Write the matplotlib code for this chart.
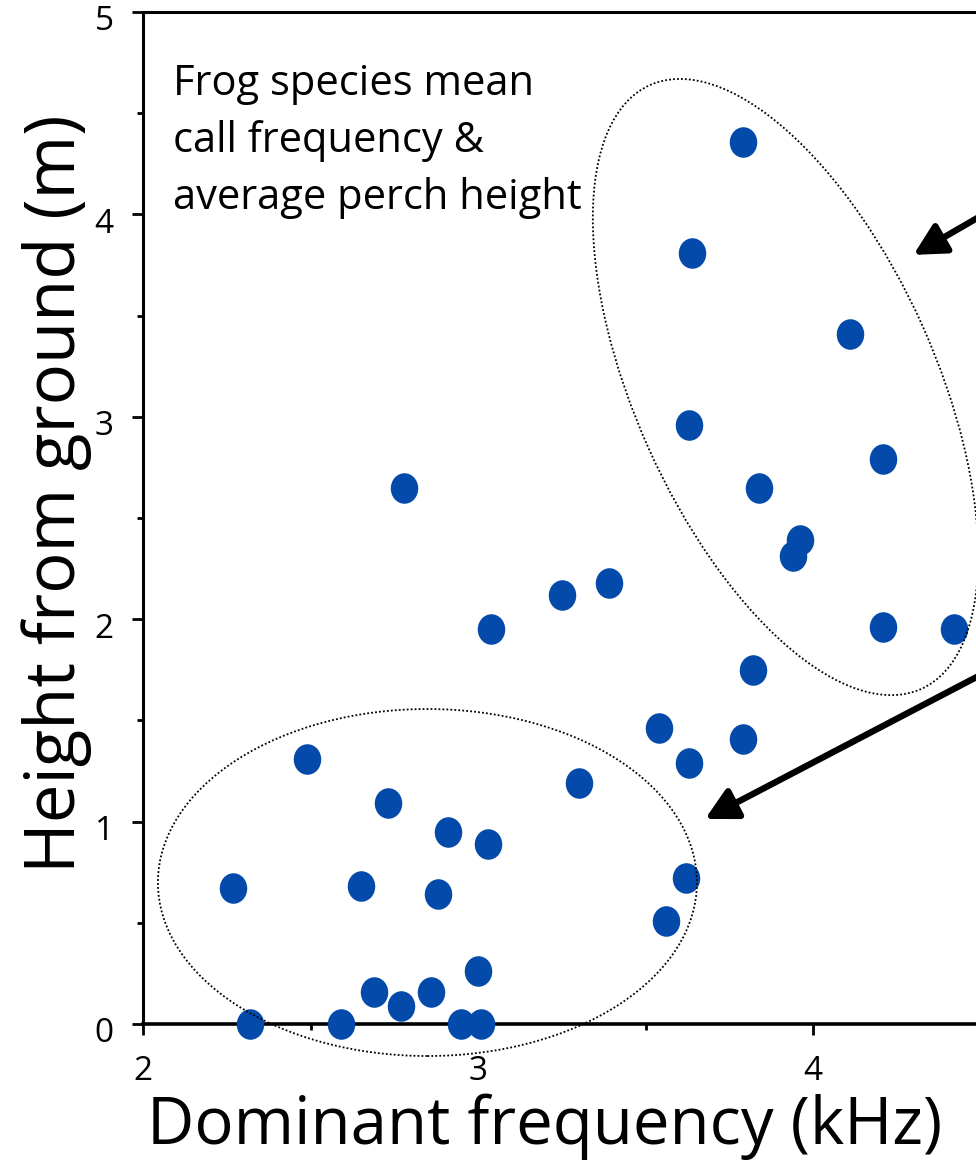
import numpy as np
import matplotlib
matplotlib.use("Agg")
import matplotlib.pyplot as plt
from matplotlib.patches import Ellipse
from matplotlib.path import Path
from matplotlib.transforms import ScaledTranslation
from matplotlib.ticker import MultipleLocator

plt.rcParams['font.family'] = ['Open Sans', 'DejaVu Sans']

# ---- data ----
freq_khz = [3.79, 3.64, 4.11, 3.63, 4.21, 3.84, 3.96, 3.94, 4.21, 4.42, 3.82,
            2.78, 3.04, 3.25, 3.39, 3.54, 3.79, 3.63, 3.30, 3.62, 3.56,
            2.49, 2.73, 2.91, 3.03, 2.27, 2.65, 2.88, 3.00, 2.69, 2.86, 2.77,
            2.32, 2.59, 2.95, 3.01]
height_m = [4.36, 3.81, 3.41, 2.96, 2.79, 2.65, 2.39, 2.31, 1.96, 1.95, 1.75,
            2.65, 1.95, 2.12, 2.18, 1.46, 1.41, 1.29, 1.19, 0.72, 0.51,
            1.31, 1.09, 0.95, 0.89, 0.67, 0.68, 0.64, 0.26, 0.16, 0.16, 0.09,
            0.0, 0.0, 0.0, 0.0]
x_ticks = [2, 3, 4]
y_ticks = [0, 1, 2, 3, 4, 5]
x_label = "Dominant frequency (kHz)"
y_label = "Height from ground (m)"
note = "Frog species mean\ncall frequency &\naverage perch height"

DOT = '#034AAB'

fig = plt.figure(figsize=(9.76, 11.62), dpi=100)
W, H = 976, 1162
# axes extends past the right edge of the figure (cropped like the reference)
ax = fig.add_axes([143 / W, 138 / H, 1005 / W, 1012 / H])
ax.set_xlim(2, 5)
ax.set_ylim(0, 5)

# slightly tall elliptical marker
circ = Path.unit_circle()
ell_marker = Path(circ.vertices * np.array([0.9, 1.0]), circ.codes)
ax.scatter(freq_khz, height_m, s=22.0 ** 2, marker=ell_marker, color=DOT,
           linewidths=0, zorder=5, clip_on=False)

for sp in ax.spines.values():
    sp.set_linewidth(2.2)
ax.spines['bottom'].set_linewidth(2.6)

ax.set_xticks(x_ticks)
ax.set_yticks(y_ticks)
ax.xaxis.set_minor_locator(MultipleLocator(0.5))
ax.yaxis.set_minor_locator(MultipleLocator(0.5))
ax.tick_params(which='major', direction='out', length=8, width=2, labelsize=24, pad=14)
ax.tick_params(which='minor', direction='out', length=4, width=2)
ax.tick_params(axis='y', which='major', pad=13)
ax.xaxis.set_ticks_position('bottom')
ax.yaxis.set_ticks_position('left')
for lab in ax.get_yticklabels():
    lab.set_transform(lab.get_transform() + ScaledTranslation(0, -0.06, fig.dpi_scale_trans))

ax.set_xlabel(x_label, fontsize=47)
ax.set_ylabel(y_label, fontsize=49.5)
ax.xaxis.set_label_coords((545 - 143) / 1005, -(1094 - 1024) / 1012)
ax.yaxis.set_label_coords(-(143 - 92) / 1005, (1024 - 494) / 1012)

ax.text(2.09, 4.75, note, fontsize=30, va='top', ha='left', linespacing=1.48)

# dotted ellipses (sizes in inches, centred on data coordinates)
def add_ellipse(cx, cy, w_px, h_px, angle):
    tr = fig.dpi_scale_trans + ScaledTranslation(cx, cy, ax.transData)
    e = Ellipse((0, 0), w_px / 100, h_px / 100, angle=angle, transform=tr,
                fill=False, edgecolor='black', linewidth=1.3,
                linestyle=(0, (1, 1.2)), clip_on=False, zorder=3)
    fig.add_artist(e)

add_ellipse(3.918, 3.147, 662, 300, -65.8)
add_ellipse(2.849, 0.699, 539, 347, 0)

# arrows pointing to the groups (tails lie beyond the cropped right edge)
arrow_kw = dict(arrowstyle='-|>,head_length=0.95,head_width=0.5', color='black',
                lw=4.6, shrinkA=0, shrinkB=0, mutation_scale=20)
ax.annotate('', xy=(4.300, 3.800), xytext=(4.785, 4.264), arrowprops=arrow_kw,
            annotation_clip=False)
ax.annotate('', xy=(3.678, 1.013), xytext=(4.785, 1.971), arrowprops=arrow_kw,
            annotation_clip=False)

fig.savefig('out.png', dpi=100)
